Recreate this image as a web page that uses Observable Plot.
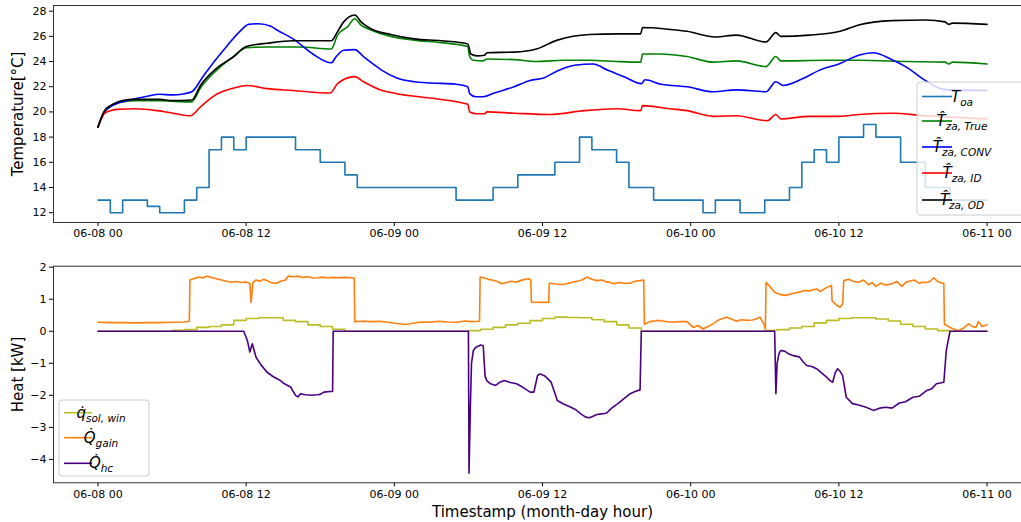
<!DOCTYPE html>
<html><head><meta charset="utf-8">
<script src="https://cdn.jsdelivr.net/npm/d3@7"></script>
<script src="https://cdn.jsdelivr.net/npm/@observablehq/plot@0.6"></script>
<style>
html,body{margin:0;padding:0;background:#fff;overflow:hidden;}
#chart{width:1021px;height:522px;overflow:hidden;position:relative;}
#chart svg{display:block;overflow:hidden;}
</style></head><body><div id="chart"></div>
<script>
// ---- tick labels / axes ----
const tickHours = [0, 12, 24, 36, 48, 60, 72];
const tempTicks = [12, 14, 16, 18, 20, 22, 24, 26, 28];
const heatTicks = [-4, -3, -2, -1, 0, 1, 2];

// ---- top panel series: [hour since 06-08 00, value] ----
const toaValues = [13,12,13,13,12.5,12,12,13,14,17, 18,17,18,18,18,18,17,17,16,16,
  15,14,14,14,14,14,14,14,14,13, 13,13,14,14,15,15,15,16,16,18,
  17,17,16,14,14,13,13,13,13,12, 13,13,12,12,13,13,14,16,17,16,
  18,18,19,18,18,16,16,14,14,13, 13,13,13];

const tTrue = [[0,18.8],[0.25,19.5],[0.5,20.0],[1,20.45],[1.5,20.7],[2,20.8],[3,20.9],[5,20.9],[6,20.85],[7.6,20.8],[8.3,21.9],[9.6,23.3],[11,24.4],[12,25.1],[13.7,25.15],[16.3,25.15],[18.9,25.0],[19.4,26.1],[20.2,26.75],[20.8,27.4],[21.3,26.9],[22.1,26.5],[23.7,26.0],[25.6,25.7],[27.8,25.5],[29.95,25.2],[30.1,24.4],[30.4,24.1],[31.2,24.05],[31.5,24.2],[33.7,24.15],[35.5,24.0],[37.7,24.1],[39.8,24.1],[42,24.0],[43.95,23.95],[44.1,24.6],[45.5,24.6],[47.7,24.4],[49.8,23.95],[51.7,24.05],[54.1,23.6],[54.9,24.4],[55.3,24.05],[58.9,24.1],[61.6,24.1],[65.6,24.0],[68.6,23.95],[68.9,23.8],[69.2,23.95],[72,23.8]];

const tConv = [[0,18.8],[0.25,19.4],[0.5,19.95],[1,20.4],[1.5,20.65],[2,20.8],[3,21.05],[4,21.25],[5,21.4],[6,21.35],[7,21.45],[7.6,21.6],[8.5,22.8],[9.5,24.1],[10.5,25.3],[11.5,26.4],[12.2,26.95],[13,27.0],[14,26.8],[14.5,26.5],[15.8,25.8],[17.4,24.6],[18.9,23.9],[19.3,24.4],[19.9,24.9],[20.8,24.95],[21.5,24.4],[22.3,23.8],[23,23.3],[24.2,22.7],[25.6,22.4],[27,22.3],[29,22.2],[29.95,22.0],[30.1,21.45],[30.6,21.2],[31.2,21.2],[32.1,21.5],[33.7,22.0],[35,22.5],[36.1,22.7],[37.2,23.25],[38.6,23.7],[40.1,23.8],[41.3,23.3],[42.6,22.8],[44,22.25],[44.3,22.55],[45.6,22.2],[46.5,22.1],[47.7,22.0],[49.8,21.6],[51.7,21.75],[54.1,21.6],[54.9,22.4],[55.5,22.1],[57.1,22.65],[58.4,23.3],[60.1,23.85],[61.6,24.5],[62.8,24.7],[64.3,24.15],[65.4,23.6],[67,22.5],[68.1,21.9],[68.9,21.75],[72,21.7]];

const tID = [[0,18.8],[0.25,19.4],[0.5,19.85],[1,20.1],[1.5,20.2],[3,20.25],[4.8,20.1],[6.1,19.9],[7.5,19.7],[8.3,20.4],[9.6,21.4],[11,21.9],[12.1,22.1],[13.7,21.85],[15.8,21.7],[18.8,21.5],[19.4,22.25],[20.8,22.8],[21.5,22.4],[22.9,21.75],[24.2,21.45],[26.9,21.1],[29.95,20.6],[30.1,20.0],[30.7,19.85],[31.3,19.85],[31.5,20.0],[33.7,19.9],[36.6,19.8],[39.4,20.1],[42,20.25],[43.95,20.1],[44.1,20.5],[46.3,20.25],[47.7,20.1],[49.8,19.65],[51.7,19.7],[54.2,19.3],[54.9,19.8],[55.3,19.45],[57.6,19.65],[60.1,19.65],[61.6,19.8],[64.3,19.9],[67,19.7],[72,19.45]];

const tOD = [[0,18.8],[0.25,19.5],[0.5,20.05],[1,20.5],[1.5,20.75],[2,20.9],[3,21.0],[5,21.0],[6,20.9],[7.6,20.95],[8.3,22.1],[9.6,23.45],[11,24.4],[12,25.2],[13.7,25.45],[15.8,25.65],[18.9,25.65],[19.3,26.2],[19.9,27.15],[20.8,27.7],[21.3,27.15],[22.1,26.6],[23.7,26.15],[25.6,25.8],[27.8,25.65],[29.95,25.4],[30.2,24.6],[30.7,24.45],[31.3,24.5],[31.5,24.7],[33.7,24.75],[35.5,25.0],[37.2,25.7],[39.8,26.15],[42,26.2],[43.95,26.2],[44.1,26.7],[46.3,26.55],[47.7,26.4],[50,25.95],[51.7,26.1],[54.1,25.55],[54.9,26.3],[55.3,26.0],[57.6,26.1],[60.1,26.4],[61.6,26.9],[64.3,27.25],[67,27.3],[68.6,27.15],[68.9,26.95],[69.2,27.05],[72,26.95]];

// ---- bottom panel series ----
const qSolValues = [0,0,0,0,0,0,0.03,0.05,0.12,0.15, 0.2,0.34,0.4,0.42,0.42,0.34,0.3,0.2,0.15,0.06,
  0,0,0,0,0,0,0,0,0,0, 0.02,0.06,0.12,0.2,0.25,0.33,0.4,0.44,0.43,0.42,
  0.36,0.3,0.2,0.1,0,0,0,0,0,0, 0,0,0,0,0.03,0.05,0.1,0.15,0.26,0.34,
  0.4,0.42,0.42,0.38,0.32,0.22,0.15,0.07,0.02,0, 0,0,0];

const qGain = [[0,0.28],[1,0.27],[2,0.27],[3,0.26],[4,0.27],[5,0.27],[6,0.28],[7,0.29],[7.4,0.31],[7.45,1.6],[7.8,1.65],[8.2,1.69],[8.5,1.66],[8.8,1.72],[9.2,1.68],[9.6,1.64],[10,1.6],[10.4,1.56],[10.8,1.53],[11.2,1.55],[11.6,1.52],[12,1.54],[12.3,1.5],[12.4,0.9],[12.55,1.52],[12.8,1.6],[13.1,1.56],[13.4,1.62],[13.7,1.58],[14,1.52],[14.4,1.49],[14.8,1.56],[15.2,1.6],[15.4,1.72],[15.8,1.7],[16.2,1.72],[16.6,1.68],[17,1.7],[17.4,1.66],[17.8,1.67],[18.2,1.69],[18.6,1.66],[19,1.68],[19.5,1.67],[20,1.68],[20.5,1.67],[20.75,1.66],[20.8,0.3],
  [21.5,0.31],[22.2,0.3],[22.8,0.31],[23.5,0.28],[24.2,0.24],[24.9,0.21],[25.5,0.25],[26.2,0.29],[26.8,0.28],[27.6,0.31],[28.3,0.29],[29.1,0.28],[29.7,0.32],[30.3,0.3],[30.9,0.31],[30.95,1.69],
  [31.3,1.66],[31.6,1.62],[31.9,1.6],[32.3,1.56],[32.7,1.48],[33.1,1.52],[33.5,1.56],[33.8,1.53],[34.2,1.58],[34.6,1.62],[34.9,1.64],[35.05,1.6],[35.1,0.91],[36.5,0.9],[36.55,1.5],[37,1.48],[37.4,1.46],[37.7,1.46],[38.1,1.5],[38.5,1.54],[38.8,1.56],[39.2,1.6],[39.6,1.69],[40,1.62],[40.4,1.58],[40.8,1.6],[41.2,1.54],[41.5,1.52],[41.8,1.48],[42.2,1.52],[42.6,1.5],[43.1,1.5],[43.5,1.56],[43.9,1.58],[44.2,1.6],[44.25,0.22],
  [44.7,0.3],[45.2,0.33],[45.6,0.33],[46.4,0.28],[47.2,0.3],[47.7,0.3],[48.2,0.12],[48.6,0.18],[49,0.07],[49.4,0.15],[49.8,0.23],[50.3,0.36],[50.9,0.44],[51.3,0.38],[51.7,0.31],[52.1,0.36],[52.6,0.34],[53,0.35],[53.4,0.4],[53.6,0.44],[53.9,0.25],[54.05,0.07],[54.1,1.53],
  [54.4,1.4],[54.8,1.22],[55.2,1.15],[55.7,1.12],[56.1,1.16],[56.5,1.2],[56.8,1.22],[57.2,1.27],[57.6,1.26],[58,1.3],[58.2,1.32],[58.5,1.24],[58.9,1.34],[59.2,1.4],[59.4,1.43],[59.45,0.95],[59.8,0.82],[60.1,0.75],[60.3,0.85],[60.4,1.58],[60.8,1.62],[61.2,1.55],[61.6,1.53],[62,1.6],[62.4,1.45],[62.7,1.52],[63,1.4],[63.4,1.5],[63.8,1.44],[64.3,1.48],[64.7,1.55],[65.1,1.4],[65.4,1.52],[65.7,1.56],[66.1,1.6],[66.5,1.5],[66.8,1.53],[67.1,1.52],[67.4,1.56],[67.7,1.67],[68,1.55],[68.4,1.5],[68.5,1.5],[68.55,0.22],
  [69,0.12],[69.4,0.05],[69.7,0.02],[70.1,0.1],[70.5,0.23],[70.8,0.15],[71.1,0.12],[71.3,0.3],[71.6,0.15],[72,0.2]];

const qHc = [[0,0],[11.8,0],[12.1,-0.29],[12.3,-0.65],[12.5,-0.39],[12.8,-0.81],[13.2,-1.05],[13.7,-1.28],[14.2,-1.42],[14.7,-1.52],[15.1,-1.64],[15.4,-1.7],[15.6,-1.74],[16,-2.0],[16.2,-2.05],[16.4,-1.95],[16.8,-1.98],[17.3,-2.0],[17.8,-1.98],[18,-1.97],[18.3,-1.9],[18.8,-1.88],[19.0,-1.88],[19.05,0],
  [30.0,0],[30.05,-4.43],[30.15,-2.5],[30.25,-1.0],[30.4,-0.6],[30.6,-0.5],[31.0,-0.43],[31.2,-0.45],[31.35,-1.4],[31.5,-1.55],[31.8,-1.64],[32.2,-1.69],[32.5,-1.6],[32.9,-1.54],[33.4,-1.6],[33.9,-1.64],[34.4,-1.75],[35,-1.9],[35.3,-1.9],[35.6,-1.38],[35.8,-1.33],[36.2,-1.4],[36.7,-1.59],[37.2,-2.16],[37.7,-2.27],[38.3,-2.37],[38.7,-2.45],[39.1,-2.58],[39.5,-2.68],[39.8,-2.7],[40.1,-2.65],[40.4,-2.6],[40.8,-2.58],[41.2,-2.55],[41.6,-2.4],[42.1,-2.26],[42.6,-2.1],[43.1,-1.95],[43.5,-1.88],[43.9,-1.83],[44.0,0],
  [54.8,0],[54.9,-1.95],[55.0,-1.0],[55.15,-0.7],[55.3,-0.6],[55.6,-0.62],[56,-0.72],[56.3,-0.76],[56.8,-0.8],[57.1,-0.95],[57.4,-1.07],[57.8,-1.1],[58.2,-1.17],[58.6,-1.3],[59,-1.43],[59.3,-1.55],[59.5,-1.59],[59.7,-1.3],[59.9,-1.17],[60.1,-1.25],[60.3,-1.38],[60.6,-2.06],[61.1,-2.26],[61.6,-2.3],[62.2,-2.37],[62.8,-2.47],[63.3,-2.4],[63.8,-2.37],[64.3,-2.4],[64.9,-2.24],[65.4,-2.2],[66,-2.06],[66.5,-2.03],[67.1,-1.85],[67.5,-1.8],[67.9,-1.64],[68.5,-1.59],[68.7,-0.6],[69,0],[72,0]];

// ---- legends ----
const topLegendBase = ["T", "T\u0302", "T\u0302", "T\u0302", "T\u0302"];
const topLegendSub = ["oa", "za, True", "za, CONV", "za, ID", "za, OD"];
const topColors = ["#1f77b4", "#008000", "#0000ff", "#ff0000", "#000000"];
const botLegendBase = ["q\u0307", "Q\u0307", "Q\u0307"];
const botLegendSub = ["sol, win", "gain", "hc"];
const botColors = ["#bcbd22", "#ff7f0e", "#4b0082"];

// ---- helpers ----
const start = Date.UTC(2021, 5, 8);
const T = h => new Date(start + h * 3600e3);
const fmt = d3.utcFormat("%m-%d %H");
const numFmt = d3.format("d");
const xDomain = [T(-3.6), T(75.6)];
const lw = 1.6;
const font = "DejaVu Sans";

function lineOf(data, color, curve = "linear") {
  return Plot.line(data, {x: d => T(d[0]), y: d => d[1], stroke: color, strokeWidth: lw, curve});
}
function hourly(values) { return values.map((v, i) => [i, v]); }

function addLegend(svg, box, bases, subs, colors) {
  const g = d3.select(svg).append("g");
  g.append("rect").attr("x", box.x).attr("y", box.y).attr("width", box.w).attr("height", box.h)
    .attr("rx", 3).attr("fill", "white").attr("fill-opacity", 0.8).attr("stroke", "#cccccc");
  bases.forEach((b, i) => {
    const y = box.rows[i];
    g.append("line").attr("x1", box.lx1).attr("x2", box.lx2).attr("y1", y).attr("y2", y)
      .attr("stroke", colors[i]).attr("stroke-width", lw);
    const t = g.append("text").attr("x", box.tx).attr("y", y + 5)
      .attr("font-family", font).attr("font-size", 15).attr("font-style", "italic").attr("fill", "#000");
    t.append("tspan").text(b);
    t.append("tspan").attr("font-size", 10.5).attr("dy", 4).text(subs[i]);
  });
}

const tickDates = tickHours.map(T);

const topChart = Plot.plot({
  width: 1021, height: 250,
  marginLeft: 53, marginRight: -10, marginTop: 5, marginBottom: 28,
  style: {fontFamily: font, fontSize: "11px", background: "white", color: "#000"},
  x: {type: "utc", domain: xDomain},
  y: {domain: [11.22, 28.45]},
  marks: [
    Plot.axisX({ticks: tickDates, tickFormat: fmt, tickSize: 4, tickPadding: 3, fontSize: 11, label: null}),
    Plot.axisY({ticks: tempTicks, tickFormat: numFmt, tickSize: 4, tickPadding: 3, fontSize: 11, label: null}),
    lineOf(hourly(toaValues), topColors[0], "step-after"),
    lineOf(tTrue, topColors[1], "monotone-x"),
    lineOf(tConv, topColors[2], "monotone-x"),
    lineOf(tID, topColors[3], "monotone-x"),
    lineOf(tOD, topColors[4], "monotone-x"),
    Plot.frame({stroke: "#333"}),
    Plot.text(["Temperature[°C]"], {frameAnchor: "left", textAnchor: "middle", rotate: -90, dx: -35, fontSize: 15, fill: "#000"})
  ]
});

const bottomChart = Plot.plot({
  width: 1021, height: 272,
  marginLeft: 53, marginRight: -10, marginTop: 15.7, marginBottom: 39.7,
  style: {fontFamily: font, fontSize: "11px", background: "white", color: "#000"},
  x: {type: "utc", domain: xDomain},
  y: {domain: [-4.73, 2.03]},
  marks: [
    Plot.axisX({ticks: tickDates, tickFormat: fmt, tickSize: 4, tickPadding: 3, fontSize: 11, label: null}),
    Plot.axisY({ticks: heatTicks, tickFormat: numFmt, tickSize: 4, tickPadding: 3, fontSize: 11, label: null}),
    lineOf(hourly(qSolValues), botColors[0], "step-after"),
    lineOf(qGain, botColors[1]),
    lineOf(qHc, botColors[2]),
    Plot.frame({stroke: "#333"}),
    Plot.text(["Heat [kW]"], {frameAnchor: "left", textAnchor: "middle", rotate: -90, dx: -35, fontSize: 15, fill: "#000"}),
    Plot.text(["Timestamp (month-day hour)"], {frameAnchor: "bottom", dy: 29, fontSize: 15, lineAnchor: "middle", fill: "#000"})
  ]
});

addLegend(topChart, {x: 917, y: 82, w: 120, h: 133, rows: [96.5, 121, 147, 173, 200], lx1: 922, lx2: 952, tx: 962},
  topLegendBase, topLegendSub, topColors);
addLegend(bottomChart, {x: 59, y: 150, w: 90, h: 76, rows: [162.7, 187.7, 213.3], lx1: 64, lx2: 92, tx: 101},
  botLegendBase, botLegendSub, botColors);

document.getElementById("chart").append(topChart, bottomChart);
</script></body></html>
